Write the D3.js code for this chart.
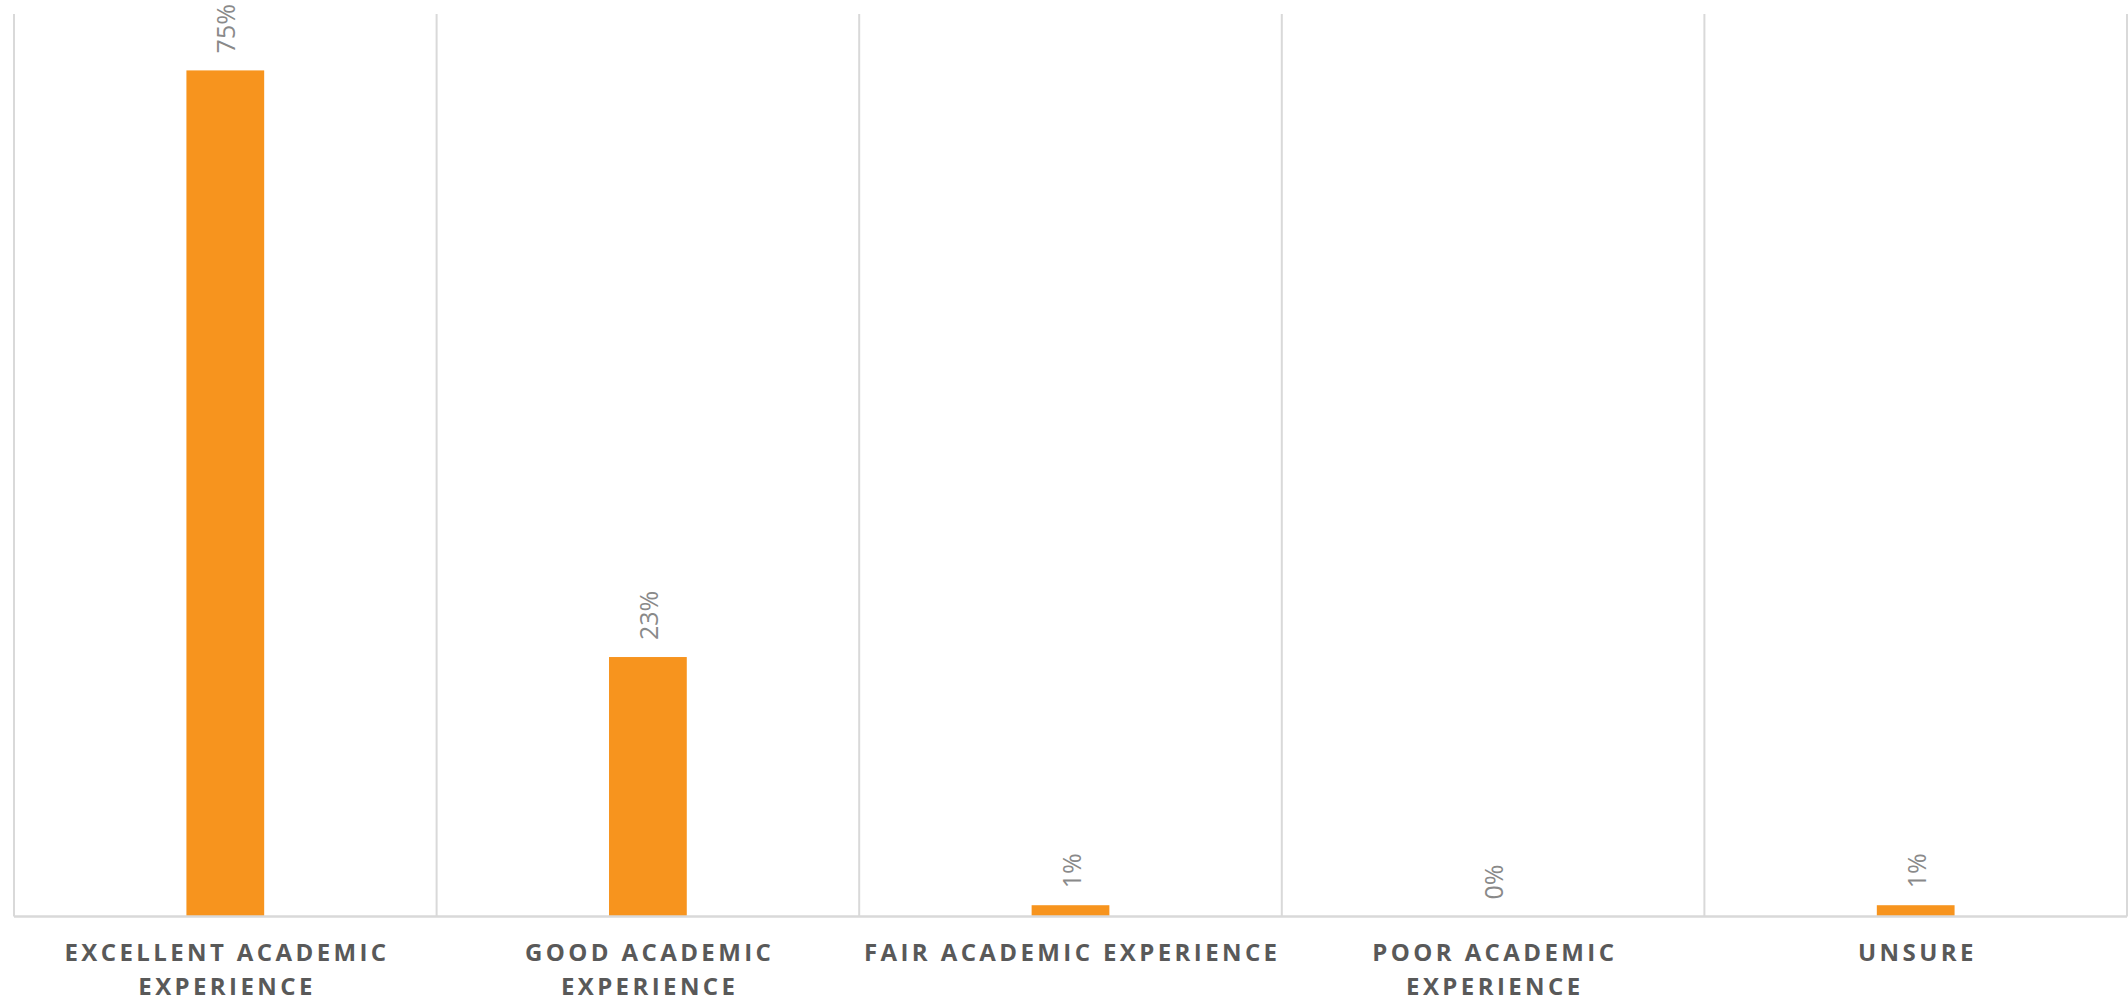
<!DOCTYPE html>
<html>
<head>
<meta charset="utf-8">
<script src="https://cdn.jsdelivr.net/npm/d3@7"></script>
<style>
  body { margin: 0; background: #fff; }
  svg { display: block; }
</style>
</head>
<body>
<div id="chart"></div>
<script>
// data
var categories = ["Excellent", "Good", "Fair", "Poor", "Unsure"];
var values = [75, 23, 1, 0, 1];
var valueLabels = ["75%", "23%", "1%", "0%", "1%"];
var tickLines = [
  ["EXCELLENT ACADEMIC", "EXPERIENCE"],
  ["GOOD ACADEMIC", "EXPERIENCE"],
  ["FAIR ACADEMIC EXPERIENCE"],
  ["POOR ACADEMIC", "EXPERIENCE"],
  ["UNSURE"]
];

function main(){
  var W = 2128, H = 1002;
  var plot = {left: 14, right: 2127, top: 14, bottom: 916.5};

  var svg = d3.select("#chart")
    .append("svg")
    .attr("width", W)
    .attr("height", H);

  // band scale for the categories, no padding so gridlines sit on band edges
  var x = d3.scaleBand()
    .domain(categories)
    .range([plot.left, plot.right])
    .padding(0);

  var y = d3.scaleLinear()
    .domain([0, 80])
    .range([plot.bottom, plot.top]);

  var bw = x.bandwidth();
  var barW = bw * 0.184;

  // vertical gridlines between categories
  var edges = categories.map(function(c){ return x(c); }).concat([plot.right]);
  svg.append("g")
    .selectAll("line")
    .data(edges)
    .enter()
    .append("line")
      .attr("x1", function(d){ return d; })
      .attr("x2", function(d){ return d; })
      .attr("y1", plot.top)
      .attr("y2", plot.bottom)
      .attr("stroke", "#d9d9d9")
      .attr("stroke-width", 2);

  // bars
  svg.append("g")
    .selectAll("rect")
    .data(values)
    .enter()
    .append("rect")
      .attr("x", function(d, i){ return x(categories[i]) + (bw - barW) / 2; })
      .attr("y", function(d){ return y(d); })
      .attr("width", barW)
      .attr("height", function(d){ return y(0) - y(d); })
      .attr("fill", "#f7941e");

  // baseline / category axis
  var axis = svg.append("g")
    .attr("transform", "translate(0," + plot.bottom + ")")
    .call(d3.axisBottom(x).tickSize(0).tickFormat(""));
  axis.select(".domain")
    .attr("stroke", "#d9d9d9")
    .attr("stroke-width", 2.5)
    .attr("d", "M" + plot.left + ",0H" + plot.right);

  axis.selectAll(".tick text").remove();
  axis.selectAll(".tick")
    .append("text")
      .attr("fill", "#595959")
      .attr("font-family", "'Open Sans', sans-serif")
      .attr("font-weight", "bold")
      .attr("font-size", "24px")
      .attr("letter-spacing", "3.4px")
      .attr("text-anchor", "middle")
      .selectAll("tspan")
      .data(function(d){ return tickLines[categories.indexOf(d)]; })
      .enter()
      .append("tspan")
        .attr("x", 1.7)
        .attr("y", function(d, i){ return 44 + i * 34; })
        .text(function(d){ return d; });

  // rotated value labels above bars
  svg.append("g")
    .selectAll("text")
    .data(values)
    .enter()
    .append("text")
      .attr("transform", function(d, i){
        var cx = x(categories[i]) + bw / 2;
        return "translate(" + (cx + 10) + "," + (y(d) - 17) + ") rotate(-90)";
      })
      .attr("fill", "#898989")
      .attr("font-family", "'Open Sans', sans-serif")
      .attr("font-size", "25px")
      .attr("text-anchor", "start")
      .text(function(d, i){ return valueLabels[i]; });
}
main();
</script>
</body>
</html>
